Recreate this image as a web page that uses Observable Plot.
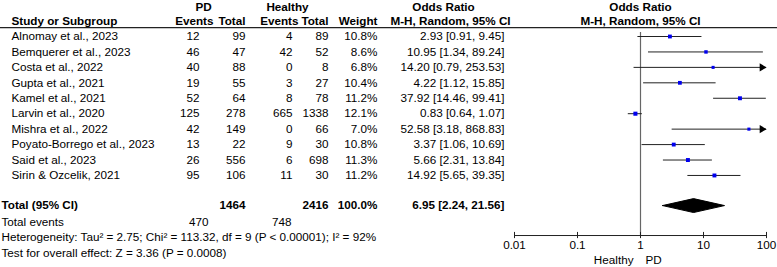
<!DOCTYPE html>
<html>
<head>
<meta charset="utf-8">
<script src="https://cdn.jsdelivr.net/npm/d3@7"></script>
<script src="https://cdn.jsdelivr.net/npm/@observablehq/plot@0.6"></script>
<style>
  html, body { margin: 0; padding: 0; background: #fff; }
  #chart svg { display: block; }
</style>
</head>
<body>
<div id="chart"></div>
<script>
// ---- data ----
const studies = ["Alnomay et al., 2023", "Bemquerer et al., 2023", "Costa et al., 2022", "Gupta et al., 2021", "Kamel et al., 2021", "Larvin et al., 2020", "Mishra et al., 2022", "Poyato-Borrego et al., 2023", "Said et al., 2023", "Sirin & Ozcelik, 2021"];
const pdEvents = [12, 46, 40, 19, 52, 125, 42, 13, 26, 95];
const pdTotal = [99, 47, 88, 55, 64, 278, 149, 22, 556, 106];
const healthyEvents = [4, 42, 0, 3, 8, 665, 0, 9, 6, 11];
const healthyTotal = [89, 52, 8, 27, 78, 1338, 66, 30, 698, 30];
const weights = [10.8, 8.6, 6.8, 10.4, 11.2, 12.1, 7.0, 10.8, 11.3, 11.2];
const oddsRatio = [2.93, 10.95, 14.20, 4.22, 37.92, 0.83, 52.58, 3.37, 5.66, 14.92];
const ciLower = [0.91, 1.34, 0.79, 1.12, 14.46, 0.64, 3.18, 1.06, 2.31, 5.65];
const ciUpper = [9.45, 89.24, 253.53, 15.85, 99.41, 1.07, 868.83, 10.69, 13.84, 39.35];
const pooled = {or: 6.95, lower: 2.24, upper: 21.56};
const totalParticipants = {pd: 1464, healthy: 2416, weight: "100.0%"};
const totalEvents = {pd: 470, healthy: 748};
const axisTicks = [0.01, 0.1, 1, 10, 100];
const footnotes = [
  "Heterogeneity: Tau\u00b2 = 2.75; Chi\u00b2 = 113.32, df = 9 (P < 0.00001); I\u00b2 = 92%",
  "Test for overall effect: Z = 3.36 (P = 0.0008)"
];
const favourLabels = ["Healthy", "PD"];

// ---- layout (rows in y-scale units) ----
const rowH1 = -1.88, rowH2 = -0.97, rowLine = -0.58, rowTotal = 10.95, rowEvents = 12.05,
      rowFoot = [13.0, 14.05], rowAxis = 12.89, rowFav = 14.5, rowRefTop = -0.26;
const col = {study: 11, pdE: 199, pdT: 245, hE: 292, hT: 328, w: 377, orTxt: 504};

const f2 = v => v.toFixed(2);
const rows = studies.map((s, i) => ({
  study: s, row: i, pdE: String(pdEvents[i]), pdT: String(pdTotal[i]), hE: String(healthyEvents[i]), hT: String(healthyTotal[i]),
  w: weights[i].toFixed(1) + "%", weight: weights[i], or: oddsRatio[i], lo: ciLower[i], hi: ciUpper[i],
  orTxt: `${f2(oddsRatio[i])} [${f2(ciLower[i])}, ${f2(ciUpper[i])}]`
}));
const xmax = axisTicks[axisTicks.length - 1], xmin = axisTicks[0];
const clipped = rows.map(d => ({...d, lo2: Math.max(d.lo, xmin), hi2: Math.min(d.hi, xmax)}));
const arrows = rows.filter(d => d.hi > xmax);
const dh = 0.45;
const diamond = [
  {x: pooled.lower, y: rowTotal}, {x: pooled.or, y: rowTotal - dh},
  {x: pooled.upper, y: rowTotal}, {x: pooled.or, y: rowTotal + dh}, {x: pooled.lower, y: rowTotal}
];

const font = "'Liberation Sans', Arial, Helvetica, sans-serif";
const ink = "#000";
const T = (data, opts) => Plot.text(data, {frameAnchor: "left", fill: ink, ...opts});
const hdr = (txt, dx, row, anchor = "middle") => T([txt], {text: d => d, dx, y: () => row, textAnchor: anchor, fontWeight: "bold"});

const chart = Plot.plot({
  width: 777, height: 267,
  marginLeft: 0, marginRight: 0, marginTop: 0, marginBottom: 32,
  style: {fontFamily: font, fontSize: "11.7px", background: "#fff", overflow: "visible"},
  x: {type: "log", domain: [xmin, xmax], range: [514, 766], axis: null},
  y: {type: "linear", domain: [0, 14], range: [36, 36 + 14 * 15.44], axis: null},
  r: {type: "sqrt", domain: [0, 12.1], range: [0, 2.3]},
  marks: [
    // headers
    hdr("PD", 203, rowH1), hdr("Healthy", 287, rowH1),
    hdr("Study or Subgroup", col.study, rowH2, "start"),
    hdr("Events", 213, rowH2, "end"), hdr("Total", 245, rowH2, "end"),
    hdr("Events", 298, rowH2, "end"), hdr("Total", 328, rowH2, "end"),
    hdr("Weight", 377, rowH2, "end"),
    hdr("Odds Ratio", 443, rowH1), hdr("M-H, Random, 95% CI", 450, rowH2),
    Plot.text(["Odds Ratio"], {x: () => 1, y: () => rowH1, text: d => d, fontWeight: "bold", fill: ink}),
    Plot.text(["M-H, Random, 95% CI"], {x: () => 1, y: () => rowH2, text: d => d, fontWeight: "bold", fill: ink}),
    Plot.ruleY([rowLine], {stroke: "#222", strokeWidth: 1.2}),
    // study rows
    T(rows, {y: "row", text: "study", dx: col.study, textAnchor: "start"}),
    T(rows, {y: "row", text: "pdE", dx: col.pdE, textAnchor: "end"}),
    T(rows, {y: "row", text: "pdT", dx: col.pdT, textAnchor: "end"}),
    T(rows, {y: "row", text: "hE", dx: col.hE, textAnchor: "end"}),
    T(rows, {y: "row", text: "hT", dx: col.hT, textAnchor: "end"}),
    T(rows, {y: "row", text: "w", dx: col.w, textAnchor: "end"}),
    T(rows, {y: "row", text: "orTxt", dx: col.orTxt, textAnchor: "end"}),
    // totals
    hdr("Total (95% CI)", 1, rowTotal, "start"),
    hdr(String(totalParticipants.pd), col.pdT, rowTotal, "end"),
    hdr(String(totalParticipants.healthy), col.hT, rowTotal, "end"),
    hdr(totalParticipants.weight, col.w, rowTotal, "end"),
    hdr(`${f2(pooled.or)} [${f2(pooled.lower)}, ${f2(pooled.upper)}]`, col.orTxt, rowTotal, "end"),
    T(["Total events"], {text: d => d, dx: 1, y: () => rowEvents, textAnchor: "start"}),
    T([String(totalEvents.pd)], {text: d => d, dx: 208, y: () => rowEvents, textAnchor: "end"}),
    T([String(totalEvents.healthy)], {text: d => d, dx: 291, y: () => rowEvents, textAnchor: "end"}),
    T(footnotes, {text: d => d, dx: 1, y: (d, i) => rowFoot[i], textAnchor: "start"}),
    // reference line
    Plot.ruleX([1], {y1: rowRefTop, y2: rowAxis, stroke: "#666", strokeWidth: 1.2}),
    // CIs
    Plot.ruleY(clipped, {y: "row", x1: "lo2", x2: "hi2", stroke: "#222", strokeWidth: 1}),
    Plot.dot(arrows, {x: () => xmax, y: "row", symbol: "triangle", rotate: 90, r: 3, dx: -4.5, fill: "#000", stroke: null}),
    Plot.dot(rows, {x: "or", y: "row", r: "weight", symbol: "square", fill: "#0000ee", stroke: null}),
    // pooled diamond
    Plot.line(diamond, {x: "x", y: "y", fill: "#000", stroke: "#000", strokeWidth: 1}),
    // axis
    Plot.ruleY([rowAxis], {x1: xmin, x2: xmax, stroke: "#222", strokeWidth: 1}),
    Plot.ruleX(axisTicks, {x: d => d, y1: rowAxis - 0.2, y2: rowAxis + 0.2, stroke: "#222"}),
    Plot.axisX({ticks: axisTicks, tickFormat: d => String(d), tickSize: 0, tickPadding: 5, fontSize: 11.7, fill: ink}),
    Plot.text([favourLabels[0]], {x: () => 1, y: () => rowFav, text: d => d, textAnchor: "end", dx: -7, fill: ink}),
    Plot.text([favourLabels[1]], {x: () => 1, y: () => rowFav, text: d => d, textAnchor: "start", dx: 5, fill: ink})
  ]
});
document.getElementById("chart").appendChild(chart);
</script>
</body>
</html>
